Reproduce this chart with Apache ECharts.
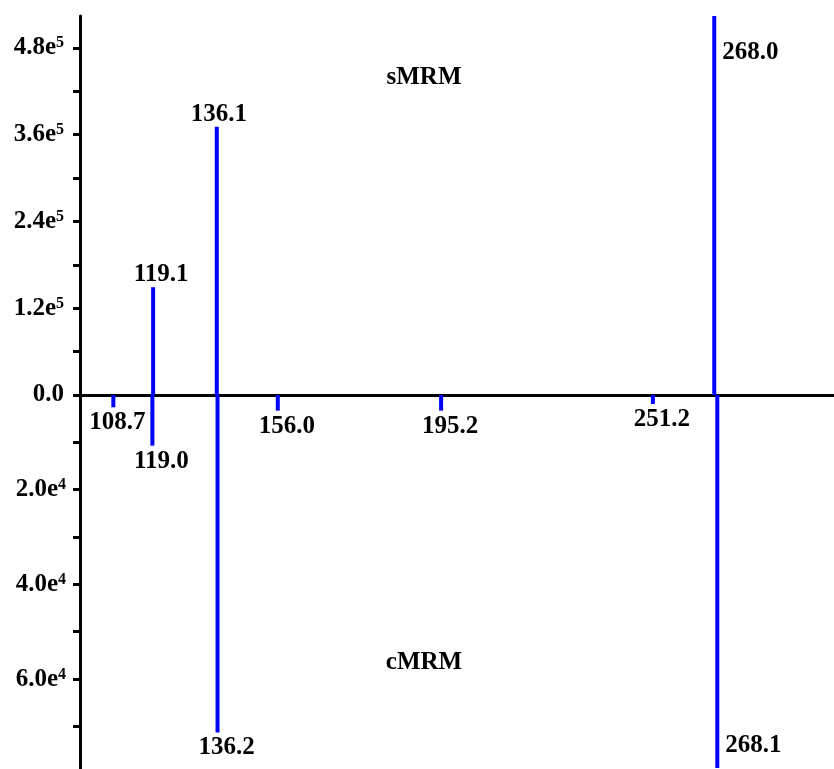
<!DOCTYPE html>
<html>
<head>
<meta charset="utf-8">
<title>sMRM / cMRM</title>
<script src="https://cdn.jsdelivr.net/npm/echarts@6/dist/echarts.min.js"></script>
<style>
  html, body { margin: 0; padding: 0; background: #fff; }
  #main { width: 834px; height: 769px; }
</style>
</head>
<body>
<div id="main"></div>
<script>
// m/z positions as drawn, the printed labels and the intensities
var smrmPos = [119.3, 136.1, 267.4];
var smrmLabels = ['119.1', '136.1', '268.0'];
var smrmInt = [149000, 371000, 524000];

var cmrmPos = [108.8, 119.1, 136.3, 152.2, 195.3, 251.2, 268.2];
var cmrmLabels = ['108.7', '119.0', '136.2', '156.0', '195.2', '251.2', '268.1'];
var cmrmInt = [2600, 10700, 71300, 3300, 3300, 1900, 78800];

// tick marks and labelled ticks of both y axes
var topTickVals = [0, 60000, 120000, 180000, 240000, 300000, 360000, 420000, 480000];
var topLabelVals = [0, 120000, 240000, 360000, 480000];
var bottomTickVals = [10000, 20000, 30000, 40000, 50000, 60000, 70000];
var bottomLabelVals = [20000, 40000, 60000];

var FONT = 'Liberation Serif';
var BLUE = '#0000ff';
var FS = 25;

var chart = echarts.init(document.getElementById('main'));

function tickLabel(exp) {
	return function (v) {
		if (v === 0) return '{m|0.0}';
		return '{m|' + (v / Math.pow(10, exp)).toFixed(1) + 'e}{s|' + exp + '}';
	};
}

var richTicks = {
	m: { fontFamily: FONT, fontWeight: 'bold', fontSize: FS, color: '#000' },
	s: { fontFamily: FONT, fontWeight: 'bold', fontSize: 16, color: '#000', verticalAlign: 'top' }
};

function buildData(pos, labels, vals, side) {
	var out = [];
	for (var i = 0; i < pos.length; i++) {
		var lab = labels[i];
		var item = { value: [pos[i], vals[i]], label: { formatter: lab } };
		if (side === 'top') {
			if (lab === '268.0') {
				item.label.position = [10, 24];
			} else {
				item.label.position = 'top';
				item.label.distance = 0;
				item.label.offset = [lab === '136.1' ? 2 : 8, 0];
			}
		} else {
			if (lab === '268.1') {
				item.label.position = [10, '100%'];
				item.label.offset = [0, -35];
			} else {
				item.label.position = 'bottom';
				item.label.distance = 3;
				item.label.offset = [lab === '108.7' ? 4 : 9, 0];
			}
		}
		out.push(item);
	}
	return out;
}

var labelStyle = {
	show: true,
	fontFamily: FONT,
	fontWeight: 'bold',
	fontSize: FS,
	color: '#000'
};

var axisLineStyle = { show: true, lineStyle: { color: '#000', width: 3 } };

var option = {
	backgroundColor: '#fff',
	animation: false,
	grid: [
		{ left: 80, right: 0, top: 16, height: 379 },
		{ left: 80, right: 0, top: 395, height: 374 }
	],
	xAxis: [
		{
			gridIndex: 0, type: 'value', min: 100, max: 299,
			axisLine: { show: true, onZero: true, lineStyle: { color: '#000', width: 3 } },
			axisTick: { show: false }, axisLabel: { show: false }, splitLine: { show: false }
		},
		{
			gridIndex: 1, type: 'value', min: 100, max: 299, show: false
		}
	],
	yAxis: [
		{
			gridIndex: 0, type: 'value', min: 0, max: 524000,
			axisLine: axisLineStyle,
			axisTick: { show: true, length: 7, customValues: topTickVals, lineStyle: { color: '#000', width: 3 } },
			axisLabel: { margin: 16, customValues: topLabelVals, formatter: tickLabel(5), rich: richTicks },
			splitLine: { show: false }
		},
		{
			gridIndex: 1, type: 'value', min: 0, max: 79000, inverse: true,
			axisLine: axisLineStyle,
			axisTick: { show: true, length: 7, customValues: bottomTickVals, lineStyle: { color: '#000', width: 3 } },
			axisLabel: { margin: 14, customValues: bottomLabelVals, formatter: tickLabel(4), rich: richTicks },
			splitLine: { show: false }
		}
	],
	graphic: [
		{ type: 'text', x: 424, y: 78, style: { text: 'sMRM', fill: '#000', font: 'bold 25px "Liberation Serif"', textAlign: 'center', textVerticalAlign: 'middle' } },
		{ type: 'text', x: 424, y: 663, style: { text: 'cMRM', fill: '#000', font: 'bold 25px "Liberation Serif"', textAlign: 'center', textVerticalAlign: 'middle' } }
	],
	series: [
		{
			name: 'sMRM', type: 'bar', xAxisIndex: 0, yAxisIndex: 0,
			barWidth: 4, itemStyle: { color: BLUE },
			label: labelStyle,
			data: buildData(smrmPos, smrmLabels, smrmInt, 'top')
		},
		{
			name: 'cMRM', type: 'bar', xAxisIndex: 1, yAxisIndex: 1,
			barWidth: 4, itemStyle: { color: BLUE },
			label: labelStyle,
			data: buildData(cmrmPos, cmrmLabels, cmrmInt, 'bottom')
		}
	]
};

chart.setOption(option);
</script>
</body>
</html>
